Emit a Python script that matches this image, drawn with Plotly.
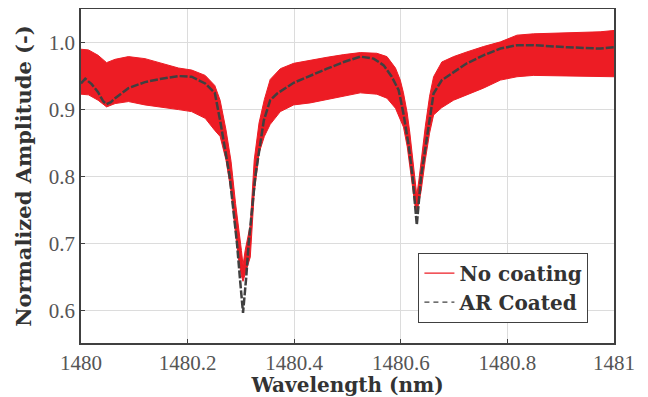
import plotly.graph_objects as go

# ---- data ----
band_x = [1480.000, 1480.014, 1480.032, 1480.048, 1480.064, 1480.089, 1480.120, 1480.151,
          1480.183, 1480.2075, 1480.233, 1480.251, 1480.261, 1480.272, 1480.2815, 1480.290,
          1480.296, 1480.301, 1480.304, 1480.308, 1480.3176, 1480.325, 1480.334, 1480.344,
          1480.355, 1480.374, 1480.399, 1480.430, 1480.4615, 1480.493, 1480.524, 1480.555,
          1480.574, 1480.590, 1480.599, 1480.605, 1480.612, 1480.617, 1480.622, 1480.627,
          1480.630, 1480.634, 1480.638, 1480.646, 1480.654, 1480.6615, 1480.677, 1480.699,
          1480.724, 1480.755, 1480.787, 1480.818, 1480.849, 1480.912, 1480.974, 1481.000]
band_upper = [0.990, 0.989, 0.981, 0.970, 0.975, 0.979, 0.976, 0.969,
              0.962, 0.959, 0.951, 0.936, 0.914, 0.870, 0.823, 0.760,
              0.725, 0.690, 0.668, 0.690, 0.728, 0.825, 0.880, 0.915,
              0.945, 0.961, 0.969, 0.974, 0.978, 0.982, 0.985, 0.984,
              0.979, 0.962, 0.944, 0.925, 0.895, 0.865, 0.825, 0.790,
              0.772, 0.795, 0.825, 0.875, 0.920, 0.949, 0.971, 0.979,
              0.986, 0.994, 1.001, 1.011, 1.013, 1.014, 1.016, 1.018]
band_lower = [0.923, 0.922, 0.914, 0.904, 0.909, 0.912, 0.907, 0.903,
              0.900, 0.897, 0.887, 0.869, 0.860, 0.825, 0.778, 0.715,
              0.675, 0.652, 0.644, 0.655, 0.680, 0.775, 0.835, 0.860,
              0.878, 0.897, 0.907, 0.910, 0.915, 0.920, 0.925, 0.923,
              0.917, 0.902, 0.885, 0.874, 0.845, 0.815, 0.778, 0.755,
              0.746, 0.760, 0.778, 0.825, 0.865, 0.892, 0.903, 0.914,
              0.922, 0.932, 0.944, 0.949, 0.951, 0.950, 0.949, 0.949]

ar_x = [1480.000, 1480.008, 1480.020, 1480.032, 1480.042, 1480.048, 1480.056, 1480.064,
        1480.089, 1480.120, 1480.151, 1480.183, 1480.2075, 1480.233, 1480.251, 1480.261,
        1480.279, 1480.2927, 1480.298, 1480.304, 1480.310, 1480.3145, 1480.327, 1480.343,
        1480.355, 1480.368, 1480.399, 1480.430, 1480.4615, 1480.493, 1480.524, 1480.549,
        1480.568, 1480.583, 1480.596, 1480.605, 1480.615, 1480.622, 1480.630, 1480.638,
        1480.647, 1480.6615, 1480.677, 1480.699, 1480.724, 1480.755, 1480.787, 1480.818,
        1480.849, 1480.912, 1480.974, 1481.000]
ar_y = [0.939, 0.946, 0.938, 0.926, 0.912, 0.908, 0.911, 0.917,
        0.932, 0.941, 0.946, 0.950, 0.949, 0.939, 0.925, 0.884,
        0.800, 0.700, 0.650, 0.597, 0.650, 0.700, 0.800, 0.884,
        0.914, 0.924, 0.940, 0.951, 0.961, 0.971, 0.979, 0.976,
        0.966, 0.949, 0.929, 0.894, 0.845, 0.800, 0.728, 0.800,
        0.850, 0.924, 0.944, 0.956, 0.969, 0.981, 0.991, 0.996,
        0.996, 0.993, 0.991, 0.993]

x_ticks = [1480, 1480.2, 1480.4, 1480.6, 1480.8, 1481]
x_tick_labels = ["1480", "1480.2", "1480.4", "1480.6", "1480.8", "1481"]
y_ticks = [0.6, 0.7, 0.8, 0.9, 1.0]
y_tick_labels = ["0.6", "0.7", "0.8", "0.9", "1.0"]

RED = "#ED1C24"
DARK = "#404040"
TICKFONT = "Liberation Serif, Times New Roman, serif"
BOLDFONT = "DejaVu Serif, serif"

fig = go.Figure()
fig.add_trace(go.Scatter(x=band_x, y=band_lower, mode="lines",
                         line=dict(color=RED, width=1), showlegend=False, hoverinfo="skip"))
fig.add_trace(go.Scatter(x=band_x, y=band_upper, mode="lines", fill="tonexty",
                         fillcolor=RED, line=dict(color=RED, width=1), showlegend=False))
fig.add_trace(go.Scatter(x=ar_x, y=ar_y, mode="lines",
                         line=dict(color=DARK, width=2.5, dash="8px,2px"), showlegend=False))
# legend entries
fig.add_trace(go.Scatter(x=[None], y=[None], mode="lines", name="<b>No coating</b>",
                         line=dict(color=RED, width=1.2)))
fig.add_trace(go.Scatter(x=[None], y=[None], mode="lines", name="<b>AR Coated</b>",
                         line=dict(color=DARK, width=1.2, dash="5px,4px")))

axis_common = dict(showgrid=True, gridcolor="#DCDCDC", gridwidth=1,
                   showline=True, linecolor=DARK, linewidth=1.5, mirror=True,
                   ticks="inside", ticklen=4, tickcolor=DARK, zeroline=False,
                   automargin=False,
                   tickfont=dict(family=TICKFONT, size=21, color="#555555"))

# page body adds an 8px offset; figure is sized to fill the rest of the 648x397 window
fig.update_layout(
    width=640, height=389,
    margin=dict(l=73, r=34, t=1, b=54),
    paper_bgcolor="white", plot_bgcolor="white",
    xaxis=dict(range=[1480, 1481], tickvals=x_ticks, ticktext=x_tick_labels,
               title=dict(text="<b>Wavelength (nm)</b>",
                          font=dict(family=BOLDFONT, size=20, color="#333333"),
                          standoff=4),
               **axis_common),
    yaxis=dict(range=[0.552, 1.05], tickvals=y_ticks, ticktext=y_tick_labels,
               title=dict(text="<b>Normalized Amplitude (-)</b>",
                          font=dict(family=BOLDFONT, size=21, color="#333333"),
                          standoff=11),
               **axis_common),
    legend=dict(x=0.952, y=0.061, xanchor="right", yanchor="bottom",
                bgcolor="white", bordercolor=DARK, borderwidth=1,
                font=dict(family=BOLDFONT, size=20, color="#333333"),
                traceorder="normal", tracegroupgap=0, itemwidth=30),
    showlegend=True,
)

fig.write_html("out.html")
